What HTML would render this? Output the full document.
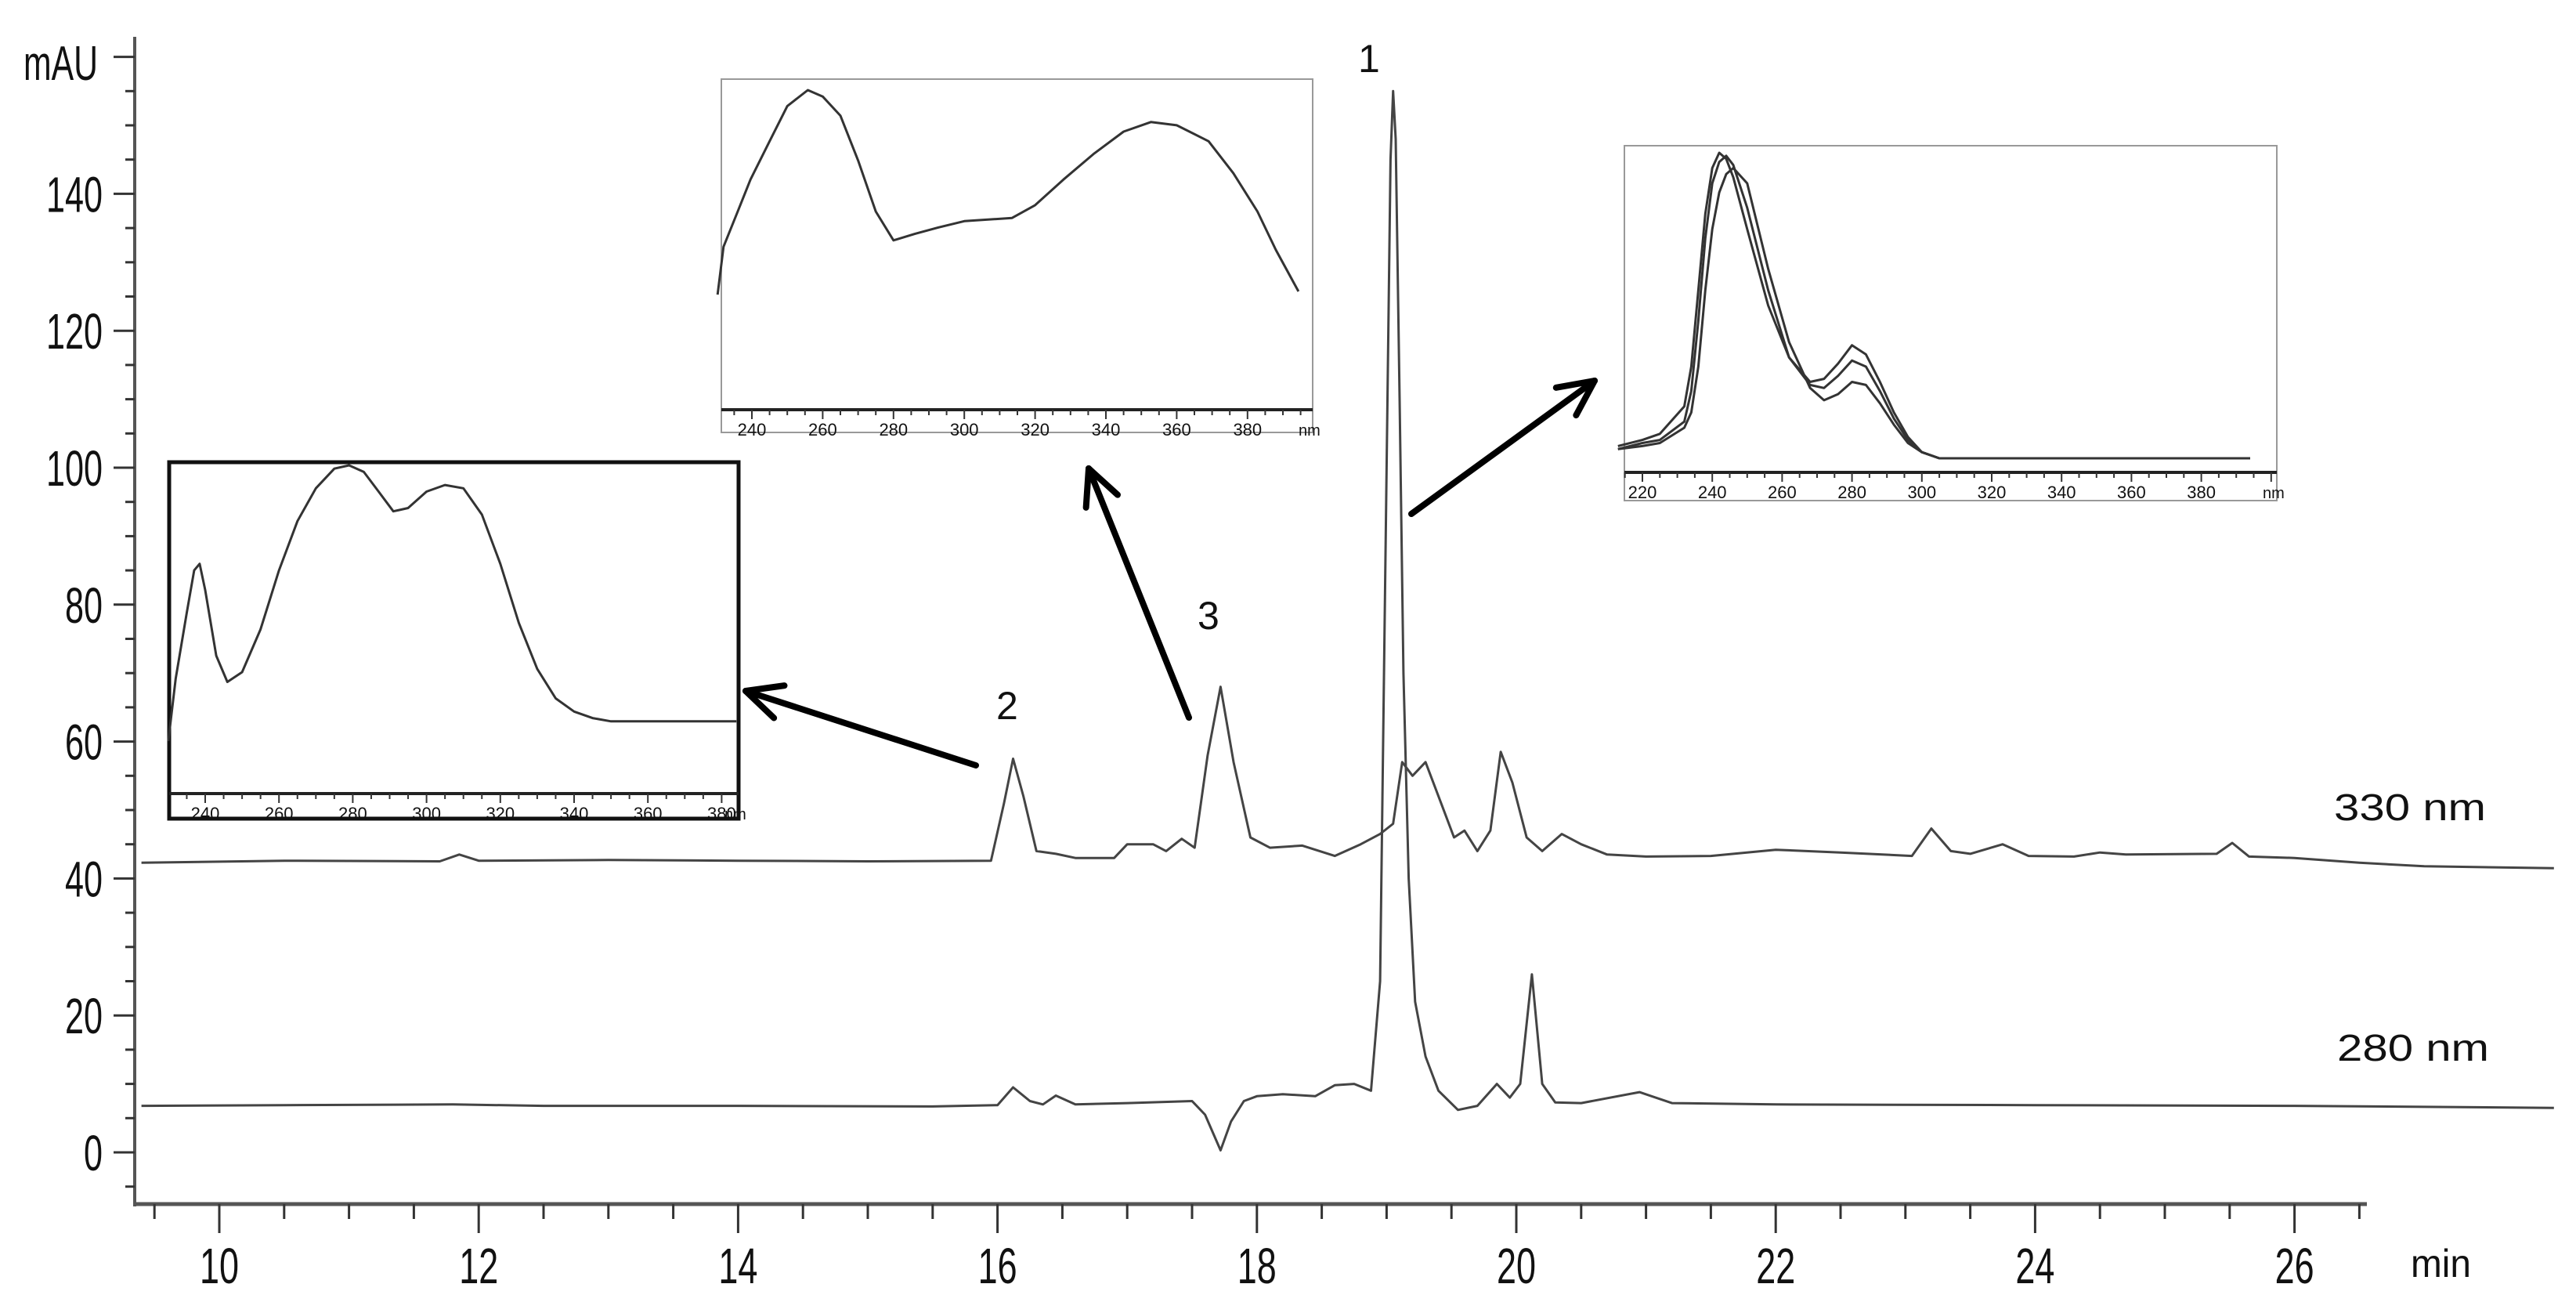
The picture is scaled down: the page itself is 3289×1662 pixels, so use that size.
<!DOCTYPE html>
<html><head><meta charset="utf-8"><style>
html,body{margin:0;padding:0;background:#fff;}
svg{display:block;}
text{font-family:"Liberation Sans Narrow","Liberation Sans",sans-serif;fill:#111;}
.lbl{font-family:"Liberation Sans",sans-serif;}
</style></head><body>
<svg id="chart" width="3289" height="1662" viewBox="0 0 3289 1662" xmlns="http://www.w3.org/2000/svg">
<rect width="3289" height="1662" fill="#fff"/>
<g id="traces"></g>
<g id="axes"></g>
<g id="insets"></g>
<g id="annot"></g>
</svg>
<script>
// ---- chromatogram data (time in min, absorbance in mAU) ----
const t330 = [9.4,10.5,11.7,11.85,12.0,13.0,14.0,15.0,15.95,16.05,16.12,16.2,16.3,16.45,16.6,16.9,17.0,17.2,17.3,17.42,17.52,17.62,17.72,17.82,17.95,18.1,18.35,18.6,18.8,18.95,19.05,19.12,19.2,19.3,19.42,19.52,19.6,19.7,19.8,19.88,19.97,20.08,20.2,20.35,20.5,20.7,21.0,21.5,22.0,22.5,23.05,23.2,23.35,23.5,23.75,23.95,24.3,24.5,24.7,25.4,25.52,25.65,26.0,26.5,27.0,28.0];
const v330 = [42.3,42.6,42.5,43.5,42.6,42.7,42.6,42.5,42.6,51,57.5,52,44,43.6,43,43,45,45,44,45.8,44.5,58,68,57,46,44.5,44.8,43.3,45,46.5,48,57,55,57,51,46,47,44,47,58.5,54,46,44,46.5,45,43.5,43.2,43.3,44.2,43.8,43.3,47.3,44,43.6,45,43.3,43.2,43.8,43.5,43.6,45.2,43.2,43,42.3,41.8,41.5];
const t280 = [9.4,10.5,11.8,12.5,14.0,15.5,16.0,16.12,16.25,16.35,16.45,16.6,17.0,17.5,17.6,17.72,17.8,17.9,18.0,18.2,18.45,18.6,18.75,18.88,18.95,19.0,19.03,19.05,19.07,19.1,19.13,19.17,19.22,19.3,19.4,19.55,19.7,19.85,19.95,20.03,20.12,20.2,20.3,20.5,20.95,21.2,22.0,24.0,26.0,28.0];
const v280 = [6.8,6.9,7.0,6.8,6.8,6.7,6.9,9.5,7.5,7.0,8.3,7.0,7.2,7.5,5.5,0.3,4.5,7.5,8.2,8.5,8.2,9.8,10,9,25,100,145,155,148,110,70,40,22,14,9,6.2,6.8,10,8,10,26,10,7.3,7.2,8.8,7.2,7.0,6.9,6.8,6.5];
const xTicks = [10,12,14,16,18,20,22,24,26];
const yTicks = [0,20,40,60,80,100,120,140];

const X = t => 280 + (t - 10) * 165.6;
const Y = v => 1471 - v * 8.74;
const NS = 'http://www.w3.org/2000/svg';
function mk(tag, attrs, parent){const e=document.createElementNS(NS,tag);for(const k in attrs)e.setAttribute(k,attrs[k]);parent.appendChild(e);return e;}

const traces = document.getElementById('traces');
function trace(ts, vs, name){
  let d=''; ts.forEach((t,i)=>{d+=(i?'L':'M')+X(t).toFixed(1)+','+Y(vs[i]).toFixed(1);});
  const p = mk('path',{d:d,fill:'none',stroke:'#444','stroke-width':3,'stroke-linejoin':'round'},traces);
  
  
}
trace(t330, v330, 'trace-330nm');
trace(t280, v280, 'trace-280nm');

// ---- axes ----
const ax = document.getElementById('axes');
const yAxis = mk('line',{x1:172,y1:47,x2:172,y2:1540,stroke:'#555','stroke-width':4},ax);


const xAxis = mk('line',{x1:170,y1:1537,x2:3022,y2:1537,stroke:'#555','stroke-width':5},ax);


for(let v=-5; v<=160; v+=5){
  const major = v%20===0;
  mk('line',{x1:major?145:160,y1:Y(v),x2:172,y2:Y(v),stroke:'#333','stroke-width':3},ax);
}
for(let t=9.5; t<=26.5; t+=0.5){
  const major = Math.abs(t%2)<1e-6;
  mk('line',{x1:X(t),y1:1537,x2:X(t),y2:major?1574:1556,stroke:'#333','stroke-width':3},ax);
}
yTicks.forEach(v=>{
  const s=String(v);
  const tx = mk('text',{x:131,y:Y(v)+23,'text-anchor':'end','font-size':64,textLength:s.length*24,lengthAdjust:'spacingAndGlyphs'},ax);
  tx.textContent=s;
  
  
});
xTicks.forEach(t=>{
  const s=String(t);
  const tx = mk('text',{x:X(t)-25,y:1638,'font-size':64,textLength:50,lengthAdjust:'spacingAndGlyphs'},ax);
  tx.textContent=s;
  
  
});
const yt = mk('text',{x:30,y:102,'font-size':62,textLength:95,lengthAdjust:'spacingAndGlyphs'},ax);
yt.textContent='mAU';


const xt = mk('text',{x:3078,y:1630,'font-size':50,textLength:77,lengthAdjust:'spacingAndGlyphs'},ax);
xt.textContent='min';



// ---- UV spectra insets (nm, normalized absorbance) ----
const nmL = [230,232,235,237,238.5,240,243,246,250,255,260,265,270,275,279,283,287,291,295,300,305,310,315,320,325,330,335,340,345,350,384];
const aL  = [0.16,0.35,0.55,0.68,0.70,0.62,0.42,0.34,0.37,0.5,0.68,0.83,0.93,0.99,1.0,0.98,0.92,0.86,0.87,0.92,0.94,0.93,0.85,0.7,0.52,0.38,0.29,0.25,0.23,0.22,0.22];
const nmM = [230.3,232,236,239.6,245,250,255.8,260,265,270,275,280,286,292.6,300,313.5,320,328,336.5,345,352.7,360,369,376,382.8,388,394.4];
const aM  = [0.36,0.51,0.62,0.72,0.84,0.95,1.0,0.98,0.92,0.78,0.62,0.53,0.55,0.57,0.59,0.60,0.64,0.72,0.80,0.87,0.90,0.89,0.84,0.74,0.62,0.50,0.37];
const nmR = [213,220,225,232,234,236,238,240,242,244,246,250,256,262,268,272,276,280,284,288,292,296,300,305,394];
const aR1 = [0.04,0.06,0.08,0.17,0.30,0.55,0.80,0.95,1.0,0.98,0.92,0.75,0.50,0.33,0.25,0.26,0.31,0.37,0.34,0.25,0.15,0.07,0.02,0.0,0.0];
const aR2 = [0.03,0.05,0.06,0.12,0.22,0.45,0.72,0.90,0.97,0.99,0.96,0.82,0.55,0.33,0.24,0.23,0.27,0.32,0.30,0.22,0.13,0.06,0.02,0.0,0.0];
const aR3 = [0.03,0.04,0.05,0.10,0.15,0.30,0.55,0.75,0.87,0.93,0.95,0.90,0.62,0.38,0.23,0.19,0.21,0.25,0.24,0.18,0.11,0.05,0.02,0.0,0.0];
const spTicks = [220,240,260,280,300,320,340,360,380];

const ins = document.getElementById('insets');
function inset(cfg, series, name){
  const g = mk('g',{},ins);
  
  
  mk('rect',{x:cfg.bx,y:cfg.by,width:cfg.bw,height:cfg.bh,fill:'#fff',stroke:cfg.stroke,'stroke-width':cfg.sw},g);
  const sx = nm => cfg.x0 + (nm - cfg.n0) * cfg.ppn;
  const sy = a => cfg.yb - a * (cfg.yb - cfg.yt);
  series.forEach(s=>{
    let d=''; s.nm.forEach((n,i)=>{d+=(i?'L':'M')+sx(n).toFixed(1)+','+sy(s.a[i]).toFixed(1);});
    const p=mk('path',{d:d,fill:'none',stroke:'#333','stroke-width':3,'stroke-linejoin':'round'},g);
    
    
  });
  mk('line',{x1:cfg.bx,y1:cfg.ay,x2:cfg.bx+cfg.bw,y2:cfg.ay,stroke:'#222','stroke-width':4},g);
  for(let n=Math.ceil((cfg.bx-cfg.x0)/cfg.ppn/5)*5+cfg.n0; sx(n)<=cfg.bx+cfg.bw; n+=5){
    mk('line',{x1:sx(n),y1:cfg.ay,x2:sx(n),y2:cfg.ay+(n%20===0?12:7),stroke:'#333','stroke-width':2},g);
  }
  spTicks.forEach(n=>{
    if(sx(n)<cfg.bx+5||sx(n)>cfg.bx+cfg.bw-10) return;
    const tx=mk('text',{x:sx(n),y:cfg.ay+33,'text-anchor':'middle','font-size':22,fill:'#333'},g);
    tx.textContent=String(n);
  });
  const nmt=mk('text',{x:cfg.bx+cfg.bw-18,y:cfg.ay+33,'font-size':20,fill:'#333'},g);
  nmt.textContent='nm';
}
inset({bx:216,by:590,bw:727,bh:455,stroke:'#111',sw:5,x0:262,n0:240,ppn:4.71,yb:1013,yt:594,ay:1013},[{nm:nmL,a:aL}],'inset-spectrum-peak-2');
inset({bx:921,by:101,bw:755,bh:451,stroke:'#999',sw:2,x0:960,n0:240,ppn:4.52,yb:523,yt:115,ay:523},[{nm:nmM,a:aM}],'inset-spectrum-peak-3');
inset({bx:2074,by:186,bw:833,bh:453,stroke:'#999',sw:2,x0:2097,n0:220,ppn:4.46,yb:585,yt:195,ay:603},[{nm:nmR,a:aR1},{nm:nmR,a:aR2},{nm:nmR,a:aR3}],'inset-spectrum-peak-1');

// ---- annotations ----
const an = document.getElementById('annot');
function arrow(x1,y1,x2,y2,name){
  const g=mk('g',{},an);
  
  
  mk('line',{x1:x1,y1:y1,x2:x2,y2:y2,stroke:'#000','stroke-width':8,'stroke-linecap':'round'},g);
  const a=Math.atan2(y2-y1,x2-x1), L=50, s=0.45;
  [a+Math.PI-s,a+Math.PI+s].forEach(b=>{
    mk('line',{x1:x2,y1:y2,x2:x2+L*Math.cos(b),y2:y2+L*Math.sin(b),stroke:'#000','stroke-width':8,'stroke-linecap':'round'},g);
  });
}
arrow(1246,977,952,882,'arrow-peak-2');
arrow(1518,916,1390,598,'arrow-peak-3');
arrow(1802,656,2036,486,'arrow-peak-1');
function label(x,y,s,name,fs,w){
  const t=mk('text',{x:x,y:y,'font-size':fs,'class':'lbl'},an);
  if(w){t.setAttribute('textLength',w);t.setAttribute('lengthAdjust','spacingAndGlyphs');}
  t.textContent=s;
  
  
}
label(1734,92,'1','peak-label-1',50);
label(1272,918,'2','peak-label-2',50);
label(1529,803,'3','peak-label-3',50);
label(2980,1047,'330 nm','trace-label-330nm',48,194);
label(2984,1354,'280 nm','trace-label-280nm',48,194);
</script>
</body></html>
